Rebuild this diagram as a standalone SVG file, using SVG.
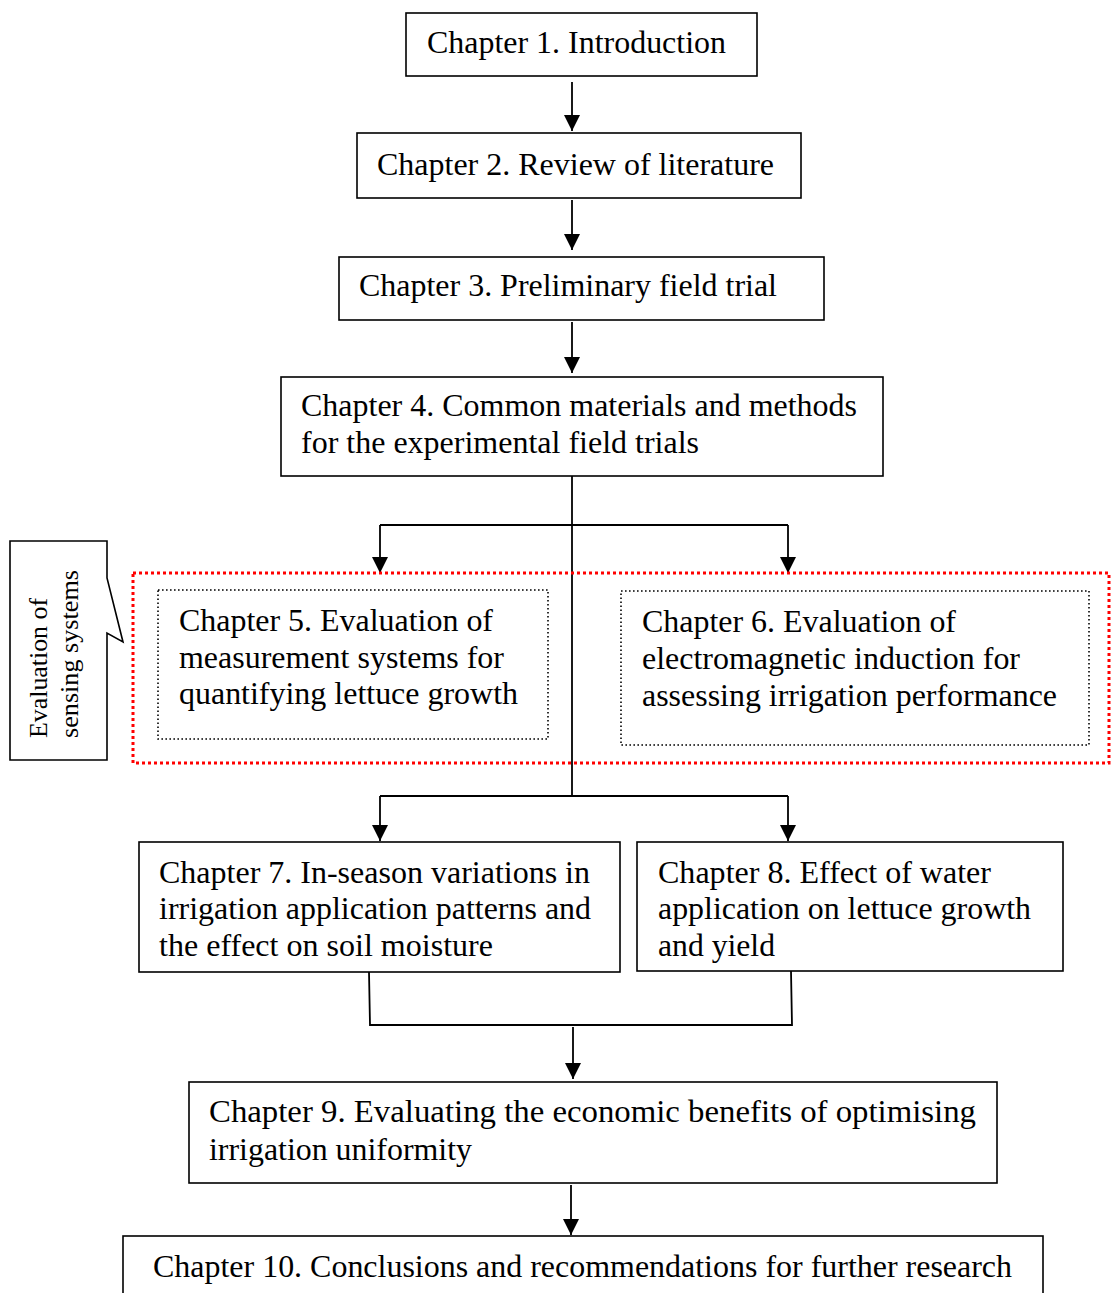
<svg xmlns="http://www.w3.org/2000/svg" width="1112" height="1293" viewBox="0 0 1112 1293">
<style>
.box{fill:#fff;stroke:#000;stroke-width:1.6}
.dot{fill:none;stroke:#000;stroke-width:1.6;stroke-dasharray:1.6 2.4}
.red{fill:none;stroke:#f00;stroke-width:3;stroke-dasharray:3 3}
.t{font-family:"Liberation Serif","Times New Roman",serif;font-size:32px;fill:#000}
.ct{font-family:"Liberation Serif","Times New Roman",serif;font-size:26px;fill:#000}
.ln{fill:none;stroke:#000;stroke-width:1.8}
</style>
<defs>
<marker id="ah" markerUnits="userSpaceOnUse" markerWidth="16" markerHeight="16" viewBox="0 0 16 16" refX="16" refY="8" orient="auto">
<path d="M0,0 L16,8 L0,16 Z" fill="#000"/>
</marker>
</defs>
<rect width="1112" height="1293" fill="#fff"/>

<g id="connectors">
<line class="ln" x1="572" y1="82" x2="572" y2="131" marker-end="url(#ah)"/>
<line class="ln" x1="572" y1="200" x2="572" y2="250" marker-end="url(#ah)"/>
<line class="ln" x1="572" y1="322" x2="572" y2="373" marker-end="url(#ah)"/>
<line class="ln" x1="572" y1="476" x2="572" y2="796"/>
<line class="ln" x1="380" y1="525" x2="788" y2="525"/>
<line class="ln" x1="380" y1="525" x2="380" y2="573" marker-end="url(#ah)"/>
<line class="ln" x1="788" y1="525" x2="788" y2="573" marker-end="url(#ah)"/>
<line class="ln" x1="380" y1="796" x2="788" y2="796"/>
<line class="ln" x1="380" y1="796" x2="380" y2="841" marker-end="url(#ah)"/>
<line class="ln" x1="788" y1="796" x2="788" y2="841" marker-end="url(#ah)"/>
<polyline class="ln" points="369,972 370,1025 792,1025 791,971"/>
<line class="ln" x1="573" y1="1027" x2="573" y2="1079" marker-end="url(#ah)"/>
<line class="ln" x1="571" y1="1185" x2="571" y2="1235" marker-end="url(#ah)"/>
</g>

<g id="ch1">
<rect class="box" x="406" y="13" width="351" height="63"/>
<text class="t" x="427" y="53" textLength="299" lengthAdjust="spacingAndGlyphs">Chapter 1. Introduction</text>
</g>
<g id="ch2">
<rect class="box" x="357" y="133" width="444" height="65"/>
<text class="t" x="377" y="175" textLength="397" lengthAdjust="spacingAndGlyphs">Chapter 2. Review of literature</text>
</g>
<g id="ch3">
<rect class="box" x="339" y="257" width="485" height="63"/>
<text class="t" x="359" y="296" textLength="418" lengthAdjust="spacingAndGlyphs">Chapter 3. Preliminary field trial</text>
</g>
<g id="ch4">
<rect class="box" x="281" y="377" width="602" height="99"/>
<text class="t" x="301" y="416" textLength="556" lengthAdjust="spacingAndGlyphs">Chapter 4. Common materials and methods</text>
<text class="t" x="301" y="453" textLength="398" lengthAdjust="spacingAndGlyphs">for the experimental field trials</text>
</g>

<g id="sensing-group">
<rect class="red" x="133" y="573" width="976" height="190"/>
</g>

<g id="ch5">
<rect class="dot" x="158" y="590" width="390" height="149"/>
<text class="t" x="179" y="631" textLength="314" lengthAdjust="spacingAndGlyphs">Chapter 5. Evaluation of</text>
<text class="t" x="179" y="668" textLength="325" lengthAdjust="spacingAndGlyphs">measurement systems for</text>
<text class="t" x="179" y="704" textLength="339" lengthAdjust="spacingAndGlyphs">quantifying lettuce growth</text>
</g>
<g id="ch6">
<rect class="dot" x="621" y="591" width="468" height="154"/>
<text class="t" x="642" y="632" textLength="314" lengthAdjust="spacingAndGlyphs">Chapter 6. Evaluation of</text>
<text class="t" x="642" y="669" textLength="378" lengthAdjust="spacingAndGlyphs">electromagnetic induction for</text>
<text class="t" x="642" y="706" textLength="415" lengthAdjust="spacingAndGlyphs">assessing irrigation performance</text>
</g>

<g id="callout">
<path d="M10,541 L107,541 L107,578 L123,642 L107,633 L107,760 L10,760 Z" fill="#fff" stroke="#000" stroke-width="1.6"/>
<text class="ct" transform="translate(47,738) rotate(-90)" x="0" y="0" textLength="140" lengthAdjust="spacingAndGlyphs">Evaluation of</text>
<text class="ct" transform="translate(78,738) rotate(-90)" x="0" y="0" textLength="168" lengthAdjust="spacingAndGlyphs">sensing systems</text>
</g>

<g id="ch7">
<rect class="box" x="139" y="842" width="481" height="130"/>
<text class="t" x="159" y="883" textLength="431" lengthAdjust="spacingAndGlyphs">Chapter 7. In-season variations in</text>
<text class="t" x="159" y="919" textLength="432" lengthAdjust="spacingAndGlyphs">irrigation application patterns and</text>
<text class="t" x="159" y="956" textLength="334" lengthAdjust="spacingAndGlyphs">the effect on soil moisture</text>
</g>
<g id="ch8">
<rect class="box" x="637" y="842" width="426" height="129"/>
<text class="t" x="658" y="883" textLength="333" lengthAdjust="spacingAndGlyphs">Chapter 8. Effect of water</text>
<text class="t" x="658" y="919" textLength="373" lengthAdjust="spacingAndGlyphs">application on lettuce growth</text>
<text class="t" x="658" y="956" textLength="117" lengthAdjust="spacingAndGlyphs">and yield</text>
</g>
<g id="ch9">
<rect class="box" x="189" y="1082" width="808" height="101"/>
<text class="t" x="209" y="1122" textLength="767" lengthAdjust="spacingAndGlyphs">Chapter 9. Evaluating the economic benefits of optimising</text>
<text class="t" x="209" y="1160" textLength="263" lengthAdjust="spacingAndGlyphs">irrigation uniformity</text>
</g>
<g id="ch10">
<rect class="box" x="123" y="1236" width="920" height="70"/>
<text class="t" x="153" y="1277" textLength="859" lengthAdjust="spacingAndGlyphs">Chapter 10. Conclusions and recommendations for further research</text>
</g>
</svg>
